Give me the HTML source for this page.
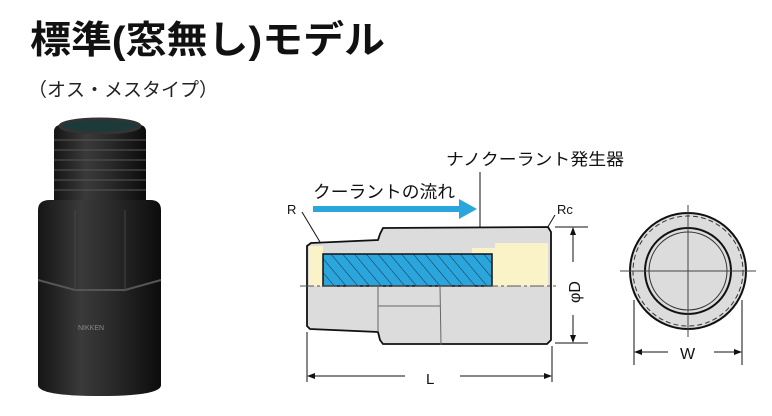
<!DOCTYPE html>
<html><head><meta charset="utf-8"><style>
body{margin:0;width:772px;height:411px;background:#fff;overflow:hidden;font-family:"Liberation Sans","Noto Sans CJK JP",sans-serif}
</style></head><body>
<svg width="772" height="411" viewBox="0 0 772 411" xmlns="http://www.w3.org/2000/svg" font-family="Liberation Sans, Noto Sans CJK JP, sans-serif">
<defs>
<linearGradient id="bd" x1="0" x2="1" y1="0" y2="0">
<stop offset="0" stop-color="#151515"/><stop offset="0.35" stop-color="#3a3a3a"/><stop offset="0.6" stop-color="#2a2a2a"/><stop offset="1" stop-color="#0c0c0c"/></linearGradient>
<pattern id="hatch" width="9" height="9" patternUnits="userSpaceOnUse" patternTransform="rotate(-40)">
<rect width="9" height="9" fill="#2aa6dc"/><line x1="0" y1="0" x2="0" y2="9" stroke="#1a2a40" stroke-width="1"/></pattern>
</defs>
<text x="30" y="53" font-size="38" font-weight="bold" fill="#111" textLength="355" lengthAdjust="spacingAndGlyphs">標準(窓無し)モデル</text>
<text x="28" y="96" font-size="19" fill="#222">（オス・メスタイプ）</text>
<!-- photo -->
<rect x="54" y="125" width="92" height="80" rx="6" fill="url(#bd)"/>
<g stroke="#555" stroke-width="1.5" opacity="0.7">
<line x1="54" y1="140" x2="146" y2="140"/><line x1="54" y1="150" x2="146" y2="150"/><line x1="54" y1="160" x2="146" y2="160"/><line x1="54" y1="170" x2="146" y2="170"/><line x1="54" y1="180" x2="146" y2="180"/><line x1="54" y1="190" x2="146" y2="190"/></g>
<ellipse cx="100" cy="126" rx="40" ry="7" fill="#1d3a3a" stroke="#333" stroke-width="3"/>
<path d="M38 210 Q38 200 50 200 L150 200 Q161 200 161 210 L161 385 Q161 396 100 396 Q38 396 38 385Z" fill="url(#bd)"/>
<path d="M38 280 L75 290 L125 290 L161 280" stroke="#555" fill="none" stroke-width="2"/>
<line x1="75" y1="210" x2="75" y2="290" stroke="#444"/><line x1="125" y1="210" x2="125" y2="290" stroke="#444"/>
<text x="78" y="330" font-size="7" fill="#888">NIKKEN</text>
<!-- section drawing -->
<text x="446" y="165" font-size="16.5" fill="#111" textLength="178" lengthAdjust="spacingAndGlyphs">ナノクーラント発生器</text>
<text x="313" y="198" font-size="17.5" fill="#111" textLength="142" lengthAdjust="spacingAndGlyphs">クーラントの流れ</text>
<text x="287" y="214" font-size="13" fill="#111">R</text>
<text x="557" y="214" font-size="13" fill="#111">Rc</text>
<rect x="313" y="206" width="148" height="6" fill="#2aa6dc"/>
<polygon points="459,199 477,209 459,219" fill="#2aa6dc"/>
<line x1="480" y1="172" x2="480" y2="247" stroke="#111"/>
<polygon points="477,240 480,249 483,240" fill="#111"/>
<line x1="302" y1="212" x2="320" y2="242" stroke="#111"/>
<line x1="555" y1="215" x2="540" y2="240" stroke="#111"/>
<path d="M311 243 L378 240 L380 234 L383 228 L548 227 L551 232 L551 340 L547 344 L383 344 L380 340 L378 332 L310 329 L307 326 L307 246 Z" fill="#dcdcdc" stroke="#111" stroke-width="1.8"/>
<rect x="309" y="246" width="14" height="40" fill="#fbf3c8"/>
<rect x="495" y="243" width="53" height="43" fill="#fbf3c8"/>
<rect x="472" y="248" width="23" height="38" fill="#fbf3c8"/>
<rect x="323" y="254" width="169" height="32" fill="url(#hatch)" stroke="#111" stroke-width="1.5"/>
<line x1="300" y1="286" x2="556" y2="286" stroke="#555" stroke-dasharray="14 3 3 3"/>
<path d="M378 286 L378 332 M440 286 L441 345 M378 306 L440 306" stroke="#666" fill="none"/>
<line x1="307" y1="332" x2="307" y2="382" stroke="#111"/>
<line x1="552" y1="346" x2="552" y2="382" stroke="#111"/>
<line x1="309" y1="376" x2="405" y2="376" stroke="#111"/><line x1="460" y1="376" x2="550" y2="376" stroke="#111"/>
<polygon points="307,376 315,373 315,379" fill="#111"/><polygon points="552,376 544,373 544,379" fill="#111"/>
<text x="426" y="384" font-size="15" fill="#111">L</text>
<line x1="555" y1="227" x2="588" y2="227" stroke="#111"/><line x1="555" y1="343" x2="588" y2="343" stroke="#111"/>
<line x1="573" y1="229" x2="573" y2="262" stroke="#111"/><line x1="573" y1="315" x2="573" y2="341" stroke="#111"/>
<polygon points="573,227 570,235 576,235" fill="#111"/><polygon points="573,343 570,335 576,335" fill="#111"/>
<text transform="translate(580,303) rotate(-90)" font-size="16" fill="#111">φD</text>
<!-- end view -->
<circle cx="688" cy="271" r="58" fill="#dcdcdc" stroke="#111" stroke-width="2"/>
<circle cx="688" cy="271" r="55" fill="none" stroke="#333" stroke-dasharray="5 3"/>
<circle cx="688" cy="271" r="43" fill="#dcdcdc" stroke="#111" stroke-width="2"/>
<circle cx="688" cy="271" r="39" fill="none" stroke="#333"/>
<line x1="620" y1="271" x2="756" y2="271" stroke="#444"/><line x1="688" y1="205" x2="688" y2="337" stroke="#444"/>
<line x1="634" y1="300" x2="634" y2="365" stroke="#111"/><line x1="742" y1="300" x2="742" y2="365" stroke="#111"/>
<line x1="636" y1="352" x2="668" y2="352" stroke="#111"/><line x1="714" y1="352" x2="740" y2="352" stroke="#111"/>
<polygon points="634,352 642,349 642,355" fill="#111"/><polygon points="742,352 734,349 734,355" fill="#111"/>
<text x="680" y="359" font-size="16" fill="#111">W</text>
</svg>
</body></html>
